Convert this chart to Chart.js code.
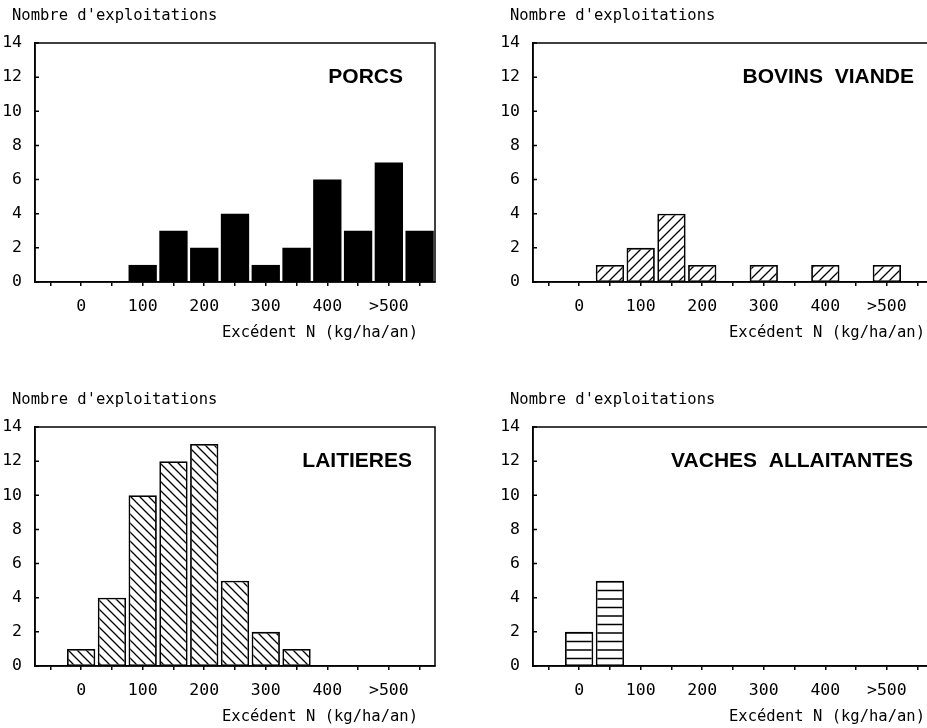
<!DOCTYPE html>
<html lang="fr">
<head>
<meta charset="utf-8" />
<title>Excédent N par type d'exploitation</title>
<script src="https://cdn.jsdelivr.net/npm/chart.js@4.4.1/dist/chart.umd.min.js"></script>
<style>
  html, body { margin: 0; padding: 0; background: #fff; overflow: hidden; width: 927px; height: 728px; }
  canvas { position: absolute; }
</style>
</head>
<body>
<canvas id="porcs" width="460" height="345" style="left:0;top:0"></canvas>
<canvas id="bovins" width="500" height="345" style="left:460px;top:0"></canvas>
<canvas id="laitieres" width="460" height="345" style="left:0;top:384px"></canvas>
<canvas id="vaches" width="500" height="345" style="left:460px;top:384px"></canvas>

<script>
// bin centres (kg N/ha/an), one bar per 50 kg class
const bins = [-50, 0, 50, 100, 150, 200, 250, 300, 350, 400, 450, 500, 550]
const tickText = ['', '0', '', '100', '', '200', '', '300', '', '400', '', '>500', '']

// number of farms per class
const porcs     = [null, null, null, 1, 3, 2, 4, 1, 2, 6, 3, 7, 3]
const bovins    = [null, null, 1, 2, 4, 1, null, 1, null, 1, null, 1, null]
const laitieres = [null, 1, 4, 10, 12, 13, 5, 2, 1, null, null, null, null]
const vaches    = [null, 2, 5, null, null, null, null, null, null, null, null, null, null]

const yTitle = "Nombre d'exploitations"
const xTitle = 'Excédent N (kg/ha/an)'

const mono = "'DejaVu Sans Mono', monospace"

function hatch(kind, size) {
  const c = document.createElement('canvas')
  c.width = kind === '-' ? 4 : size
  c.height = size
  const g = c.getContext('2d')
  g.fillStyle = '#fff'
  g.fillRect(0, 0, c.width, c.height)
  g.strokeStyle = '#000'
  g.lineWidth = 1.3
  g.beginPath()
  if (kind === '/') {
    g.moveTo(-2, size + 2); g.lineTo(size + 2, -2)
    g.moveTo(-2, 2); g.lineTo(2, -2)
    g.moveTo(size - 2, size + 2); g.lineTo(size + 2, size - 2)
  } else if (kind === '\\') {
    g.moveTo(-2, -2); g.lineTo(size + 2, size + 2)
    g.moveTo(size - 2, -2); g.lineTo(size + 2, 2)
    g.moveTo(-2, size - 2); g.lineTo(2, size + 2)
  } else {
    g.moveTo(0, 2.5); g.lineTo(4, 2.5)
    g.moveTo(0, 11); g.lineTo(4, 11)
  }
  g.stroke()
  return g.createPattern(c, 'repeat')
}

// box round the plot, inward y ticks and the texts
const frame = {
  id: 'frame',
  afterDraw(chart, args, opts) {
    const { ctx, chartArea: a } = chart
    const y = chart.scales.y
    ctx.save()
    ctx.strokeStyle = '#000'
    ctx.lineWidth = 1.5
    ctx.strokeRect(a.left, a.top, a.right - a.left, a.bottom - a.top)
    ctx.beginPath()
    y.ticks.forEach(t => {
      const py = y.getPixelForValue(t.value)
      ctx.moveTo(a.left, py)
      ctx.lineTo(a.left + 4, py)
    })
    ctx.stroke()

    ctx.fillStyle = '#000'
    ctx.textBaseline = 'middle'
    ctx.font = "bold 21px 'Liberation Sans', Arial, sans-serif"
    ctx.textAlign = 'right'
    ctx.fillText(opts.name, a.right - opts.nameInset, a.top + 34)

    ctx.font = '15.5px ' + mono
    ctx.textAlign = 'left'
    ctx.fillText(yTitle, a.left - 23, a.top - 27)
    ctx.textAlign = 'right'
    ctx.fillText(xTitle, a.right - opts.unitInset, a.bottom + 51)
    ctx.restore()
  }
}

function makeChart(id, values, fill, border, name, nameInset, unitInset, yWidth, padRight) {
  return new Chart(document.getElementById(id), {
    type: 'bar',
    data: {
      labels: bins,
      datasets: [{
        data: values,
        backgroundColor: fill,
        borderColor: '#000',
        borderWidth: border,
        borderSkipped: false,
        barPercentage: 0.92,
        categoryPercentage: 1
      }]
    },
    options: {
      responsive: false,
      animation: false,
      layout: { padding: { top: 43, right: padRight, bottom: 33, left: 0 } },
      plugins: {
        legend: { display: false },
        tooltip: { enabled: false },
        frame: { name, nameInset, unitInset }
      },
      scales: {
        x: {
          offset: true,
          grid: { offset: false, drawOnChartArea: false, tickLength: 4, color: '#000', lineWidth: 1.5 },
          border: { color: '#000', width: 1.5 },
          ticks: {
            autoSkip: false, maxRotation: 0, padding: 11, color: '#000',
            font: { family: mono, size: 16.5 },
            callback: (v, i) => tickText[i]
          },
          afterFit: s => { s.height = 30 }
        },
        y: {
          min: 0, max: 14,
          grid: { display: false },
          border: { color: '#000', width: 1.5 },
          ticks: { stepSize: 2, padding: 5, color: '#000', font: { family: mono, size: 16.5 } },
          afterFit: s => { s.width = yWidth }
        }
      }
    },
    plugins: [frame]
  })
}

makeChart('porcs', porcs, '#000', 0, 'PORCS', 32, 17, 35, 25)
makeChart('bovins', bovins, hatch('/', 10), 1.8, 'BOVINS  VIANDE', 19, 8, 73, 27)
makeChart('laitieres', laitieres, hatch('\\', 9), 1.8, 'LAITIERES', 23, 17, 35, 25)
makeChart('vaches', vaches, hatch('-', 17), 1.8, 'VACHES  ALLAITANTES', 20, 8, 73, 27)
</script>
</body>
</html>
